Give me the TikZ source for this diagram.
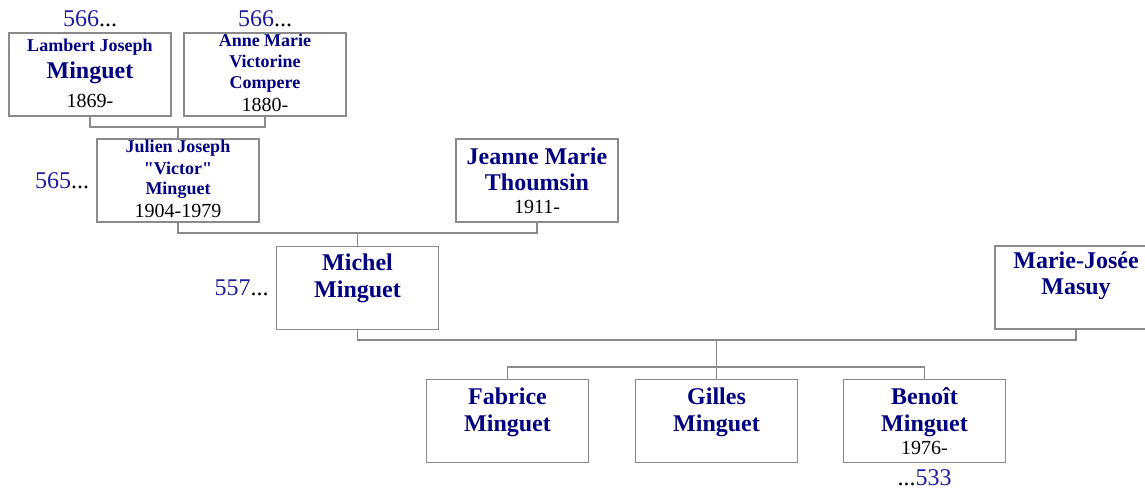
\documentclass[tikz,border=0pt]{standalone}
\usepackage{fontspec}
\setmainfont{Liberation Serif}
\usetikzlibrary{positioning}
\definecolor{namecol}{HTML}{000080}
\definecolor{numcol}{HTML}{1C1CA0}
\definecolor{boxgray}{HTML}{8A8A8A}
\newcommand{\sm}{\fontsize{18}{21}\selectfont\bfseries\color{namecol}}
\newcommand{\bg}{\fontsize{24}{26.5}\selectfont\bfseries\color{namecol}}
\newcommand{\yr}[1]{\vfill{\fontsize{20}{23}\selectfont #1\par}\vspace{8pt}}
\newcommand{\pbox}[2]{\parbox[c][83pt][t]{162pt}{\centering\rule{0pt}{#1}#2}}

\begin{document}
\begin{tikzpicture}[x=1pt,y=-1pt,
  person/.style={draw=boxgray,line width=1.3pt,fill=white,inner sep=0pt},
  link/.style={draw=boxgray,line width=1.1pt},
  num/.style={inner sep=0pt,font=\fontsize{24}{26}\selectfont}]
  \useasboundingbox (0,0) rectangle (1145,489);
  % generation 1
  \node[person] (lambert) at (90,74.5) {\pbox{19pt}{{\sm Lambert Joseph\par}{\bg Minguet\par}\yr{1869-}}};
  \node[person] (anne) at (265,74.5) {\pbox{14pt}{{\sm Anne Marie\par Victorine\par Compere\par}\yr{1880-}}};
  % generation 2
  \node[person] (julien) at (178,180.5) {\pbox{14pt}{{\sm Julien Joseph\par \textquotedbl{}Victor\textquotedbl{}\par Minguet\par}\yr{1904-1979}}};
  \node[person] (jeanne) at (537,180.5) {\pbox{25pt}{{\bg Jeanne Marie\par Thoumsin\par}\yr{1911-}}};
  % generation 3
  \node[person] (michel) at (357.5,288) {\pbox{24pt}{{\bg Michel\par Minguet\par}}};
  \node[person] (marie) at (1076,287.5) {\pbox{22pt}{{\bg Marie-Josée\par Masuy\par}}};
  % children
  \node[person] (fabrice) at (507.5,421) {\pbox{25pt}{{\bg Fabrice\par Minguet\par}}};
  \node[person] (gilles) at (716.5,421) {\pbox{25pt}{{\bg Gilles\par Minguet\par}}};
  \node[person] (benoit) at (924.5,421) {\pbox{25pt}{{\bg Benoît\par Minguet\par}\yr{1976-}}};

  % page references
  \node[num,above=5pt of lambert] (r1) {\textcolor{numcol}{566}...};
  \node[num,above=5pt of anne] (r2) {\textcolor{numcol}{566}...};
  \node[num,left=7pt of julien] (r3) {\textcolor{numcol}{565}...};
  \node[num,left=7pt of michel] (r4) {\textcolor{numcol}{557}...};
  \node[num,below=6pt of benoit] (r5) {...\textcolor{numcol}{533}};

  % family lines
  \coordinate (j1) at (178,127);
  \coordinate (j2) at (357.5,233);
  \coordinate (j3) at (716.5,340);
  \coordinate (j4) at (716.5,367);
  \draw[link] (lambert.south) |- (j1) -| (anne.south);
  \draw[link] (j1) -- (julien.north);
  \draw[link] (julien.south) |- (j2) -| (jeanne.south);
  \draw[link] (j2) -- (michel.north);
  \draw[link] (michel.south) |- (j3) -| (marie.south);
  \draw[link] (j3) -- (gilles.north);
  \draw[link] (fabrice.north) |- (j4) -| (benoit.north);
\end{tikzpicture}
\end{document}
